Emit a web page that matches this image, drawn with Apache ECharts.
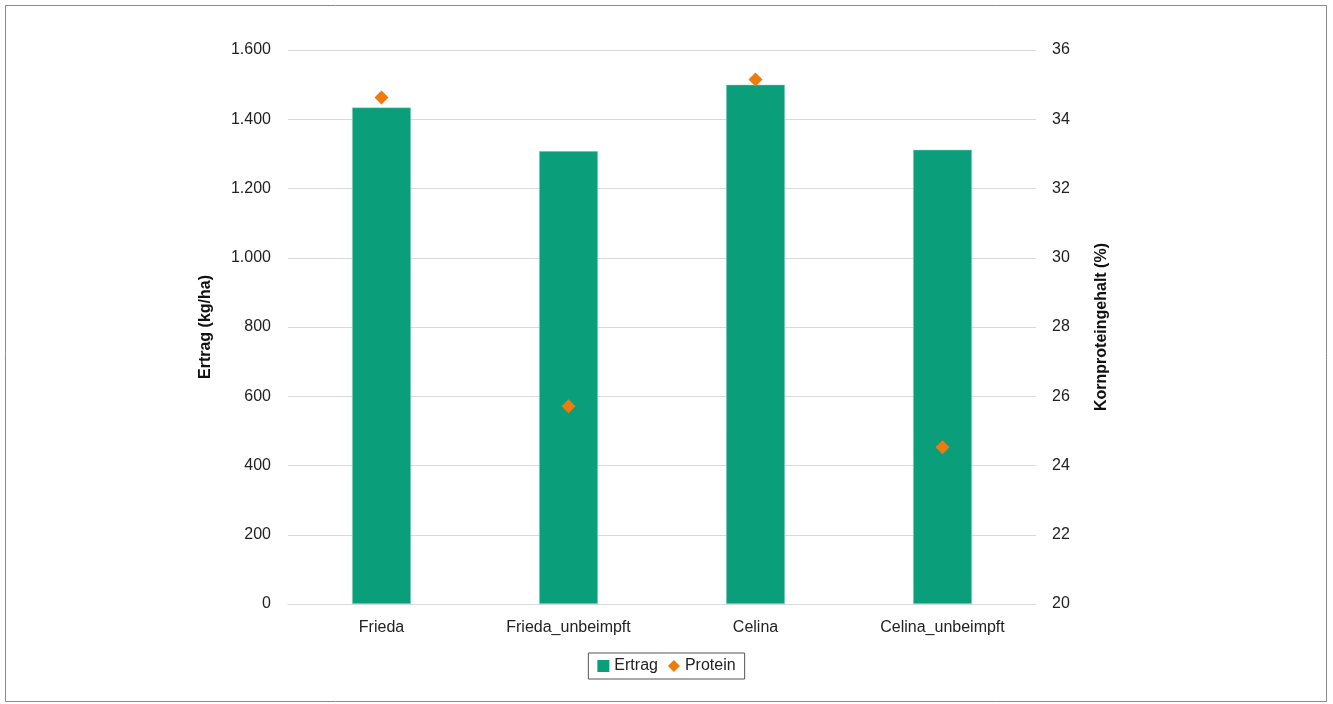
<!DOCTYPE html>
<html>
<head>
<meta charset="utf-8">
<script src="https://cdn.jsdelivr.net/npm/echarts@6/dist/echarts.min.js"></script>
<style>
html,body{margin:0;padding:0;background:#fff;}
#c{width:1333px;height:704px;}
</style>
</head>
<body>
<div id="c"></div>
<script>
const categories = ['Frieda', 'Frieda_unbeimpft', 'Celina', 'Celina_unbeimpft'];
const ertrag = [1434, 1308, 1500, 1312];
const protein = [34.63, 25.71, 35.15, 24.53];
const leftTicks = [0, 200, 400, 600, 800, 1000, 1200, 1400, 1600];
const rightTicks = [20, 22, 24, 26, 28, 30, 32, 34, 36];

const chart = echarts.init(document.getElementById('c'));
const font = 'Liberation Sans, Arial, Helvetica, sans-serif';
const fmt = v => String(v).replace(/\B(?=(\d{3})+(?!\d))/g, '.');

chart.setOption({
  textStyle: {fontFamily: font},
  graphic: [{
    type: 'rect', silent: true,
    shape: {x: 5.5, y: 5.5, width: 1321, height: 696},
    style: {fill: 'none', stroke: '#8a8a8a', lineWidth: 1}
  }],
  grid: {left: 288, right: 297, top: 50, bottom: 100},
  legend: {
    bottom: 25, left: 'center',
    borderColor: '#555', borderWidth: 1, padding: [5, 9],
    itemWidth: 12, itemHeight: 12, itemGap: 10,
    itemStyle: {borderWidth: 0},
    textStyle: {fontSize: 16, color: '#222', fontFamily: font},
    data: [{name: 'Ertrag', icon: 'rect'}, {name: 'Protein', icon: 'diamond'}]
  },
  xAxis: {
    type: 'category', data: categories,
    axisLine: {lineStyle: {color: '#d9d9d9'}},
    axisTick: {show: false},
    axisLabel: {fontSize: 16, color: '#222', margin: 16, fontFamily: font}
  },
  yAxis: [{
    type: 'value', min: 0, max: 1600, interval: 200,
    name: 'Ertrag (kg/ha)', nameLocation: 'middle', nameRotate: 90, nameGap: 74,
    nameTextStyle: {fontSize: 16, fontWeight: 'bold', color: '#111', fontFamily: font},
    axisLabel: {fontSize: 16, color: '#222', margin: 17, formatter: fmt, fontFamily: font},
    splitLine: {lineStyle: {color: '#d9d9d9'}},
    axisLine: {show: false}, axisTick: {show: false}
  }, {
    type: 'value', min: 20, max: 36, interval: 2, position: 'right',
    name: 'Kornproteingehalt (%)', nameLocation: 'middle', nameRotate: 90, nameGap: 58,
    nameTextStyle: {fontSize: 16, fontWeight: 'bold', color: '#111', fontFamily: font},
    axisLabel: {fontSize: 16, color: '#222', margin: 16, fontFamily: font},
    splitLine: {show: false},
    axisLine: {show: false}, axisTick: {show: false}
  }],
  series: [{
    name: 'Ertrag', type: 'bar', data: ertrag, barWidth: '31.5%',
    itemStyle: {color: '#0b9e7b', borderColor: '#a8dccd', borderWidth: 0.5},
    animation: false
  }, {
    name: 'Protein', type: 'scatter', yAxisIndex: 1, data: protein,
    symbol: 'diamond', symbolSize: 14,
    itemStyle: {color: '#f07a0c', opacity: 1},
    animation: false
  }]
});
</script>
</body>
</html>
